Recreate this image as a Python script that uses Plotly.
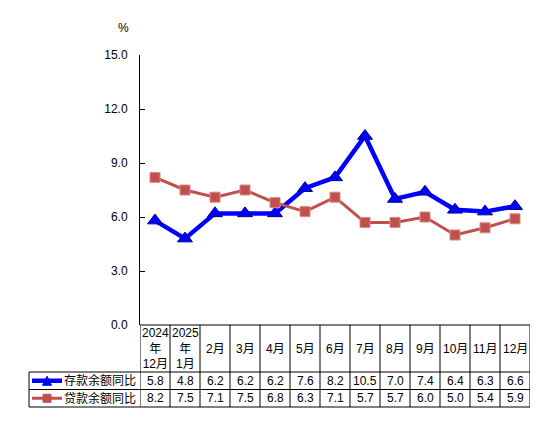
import plotly.graph_objects as go

months = ["2024<br>年<br>12月", "2025<br>年<br>1月", "2月", "3月", "4月", "5月", "6月",
          "7月", "8月", "9月", "10月", "11月", "12月"]
deposit = [5.8, 4.8, 6.2, 6.2, 6.2, 7.6, 8.2, 10.5, 7.0, 7.4, 6.4, 6.3, 6.6]
loan = [8.2, 7.5, 7.1, 7.5, 6.8, 6.3, 7.1, 5.7, 5.7, 6.0, 5.0, 5.4, 5.9]
series_names = ["存款余额同比", "贷款余额同比"]
y_ticks = [0, 3, 6, 9, 12, 15]

FONT = "Arial, Liberation Sans, Noto Sans CJK SC, sans-serif"
OFF = 8  # page body margin
W, H = 554 - 2 * OFF, 443 - 2 * OFF
# plot area in window pixels: x 140..530, y 55..325
L, T = 140 - OFF, 55 - OFF
PW, PH = 390, 270
R, B = W - L - PW, H - T - PH

def py(pix):
    # window pixel row -> paper y
    return (T + PH - (pix - OFF)) / PH

def px(pix):
    return (pix - OFF - L) / PW

x = list(range(len(months)))

fig = go.Figure()

# ---- Deposit line ----
fig.add_trace(go.Scatter(
    x=x, y=deposit, name=series_names[0], mode="lines+markers",
    line=dict(color="#0000FF", width=4.5),
    marker=dict(symbol="triangle-up", size=13, color="#0000FF",
                line=dict(color="#00008B", width=1)),
))

# ---- Loan line ----
fig.add_trace(go.Scatter(
    x=x, y=loan, name=series_names[1], mode="lines+markers",
    line=dict(color="#C0504D", width=3),
    marker=dict(symbol="square", size=10, color="#C0504D",
                line=dict(color="#D98886", width=1)),
))

shapes = []
annotations = []
line_k = dict(color="black", width=1)

# table grid
y_top, y_head, y_r1, y_r2 = py(325), py(372), py(389.5), py(407)
shapes.append(dict(type="line", xref="x", yref="paper", x0=-0.5, x1=len(months) - 0.5,
                   y0=y_top, y1=y_top, line=line_k))
for yy in [y_head, y_r1, y_r2]:
    shapes.append(dict(type="line", xref="paper", yref="paper", x0=px(29), x1=1,
                       y0=yy, y1=yy, line=line_k))
shapes.append(dict(type="line", xref="paper", yref="paper", x0=px(29), x1=px(29),
                   y0=y_head, y1=y_r2, line=line_k))
for i in range(len(months) + 1):
    shapes.append(dict(type="line", xref="x", yref="paper", x0=i - 0.5, x1=i - 0.5,
                       y0=y_top, y1=y_r2, line=line_k))

# header labels
for i, m in enumerate(months):
    annotations.append(dict(x=i, y=(y_top + y_head) / 2, xref="x", yref="paper",
                            text=m, showarrow=False, font=dict(size=12, family=FONT, color="black"),
                            xanchor="center", yanchor="middle"))

# values
for row_y, vals in [((y_head + y_r1) / 2, deposit), ((y_r1 + y_r2) / 2, loan)]:
    for i, v in enumerate(vals):
        annotations.append(dict(x=i, y=row_y, xref="x", yref="paper", text=f"{v:.1f}",
                                showarrow=False, font=dict(size=12, family=FONT, color="black"),
                                xanchor="center", yanchor="middle"))

# row labels with legend keys
for row_y, name, col, sym in [((y_head + y_r1) / 2, series_names[0], "#0000FF", "tri"),
                              ((y_r1 + y_r2) / 2, series_names[1], "#C0504D", "sq")]:
    annotations.append(dict(x=px(138), y=row_y, xref="paper", yref="paper", text=name,
                            showarrow=False, font=dict(size=12, family=FONT, color="black"),
                            xanchor="right", yanchor="middle"))
    shapes.append(dict(type="line", xref="paper", yref="paper", x0=px(32), x1=px(62),
                       y0=row_y, y1=row_y,
                       line=dict(color=col, width=4.5 if sym == "tri" else 3)))
    cx = px(47)
    if sym == "tri":
        dx, dy = 4.5 / PW, 4.5 / PH
        path = f"M {cx - dx} {row_y - dy} L {cx + dx} {row_y - dy} L {cx} {row_y + dy} Z"
    else:
        dx, dy = 4 / PW, 4 / PH
        path = (f"M {cx - dx} {row_y - dy} L {cx + dx} {row_y - dy} L {cx + dx} {row_y + dy} "
                f"L {cx - dx} {row_y + dy} Z")
    shapes.append(dict(type="path", xref="paper", yref="paper", path=path,
                       fillcolor=col, line=dict(color=col, width=1)))

# unit label
annotations.append(dict(x=px(123), y=py(28), xref="paper", yref="paper", text="%",
                        showarrow=False, font=dict(size=12, family=FONT, color="black"),
                        xanchor="center", yanchor="middle"))

fig.update_layout(
    width=W, height=H,
    margin=dict(l=L, r=R, t=T, b=B),
    paper_bgcolor="white", plot_bgcolor="white",
    showlegend=False,
    font=dict(family=FONT, size=12, color="black"),
    xaxis=dict(range=[-0.5, len(months) - 0.5], showticklabels=False, showgrid=False,
               zeroline=False, showline=False, ticks=""),
    yaxis=dict(range=[0, 15], tickvals=y_ticks, ticktext=[f"{v:.1f}" for v in y_ticks],
               showgrid=False, zeroline=False, showline=True, linecolor="black",
               linewidth=1, ticks="inside", ticklen=5, tickcolor="black",
               ticklabelstandoff=9,
               tickfont=dict(size=12, family=FONT, color="black")),
    shapes=shapes, annotations=annotations,
)

fig.write_html("out.html")
